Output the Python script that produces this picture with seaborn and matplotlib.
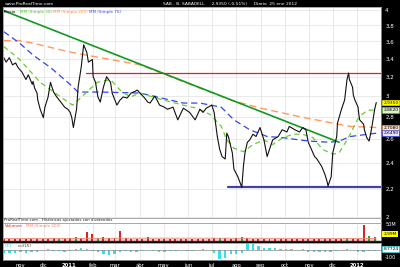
import numpy as np
import pandas as pd
import matplotlib
matplotlib.use("Agg")
import matplotlib.pyplot as plt
import matplotlib.transforms as mtransforms
from matplotlib.ticker import FixedLocator, NullLocator, FixedFormatter
import seaborn as sns

# ---------------- data ----------------
price_dates = ["2010-10-11", "2010-10-14", "2010-10-18", "2010-10-22", "2010-10-26", "2010-10-29",
               "2010-11-03", "2010-11-08", "2010-11-11", "2010-11-16", "2010-11-17", "2010-11-19",
               "2010-11-22", "2010-11-23", "2010-11-26", "2010-11-30", "2010-12-02", "2010-12-06",
               "2010-12-09", "2010-12-13", "2010-12-17", "2010-12-22", "2010-12-27", "2010-12-31",
               "2011-01-03", "2011-01-05", "2011-01-07", "2011-01-11", "2011-01-13", "2011-01-17",
               "2011-01-20", "2011-01-24", "2011-01-26", "2011-01-31", "2011-02-01", "2011-02-04",
               "2011-02-07", "2011-02-10", "2011-02-14", "2011-02-18", "2011-02-23", "2011-02-25",
               "2011-03-03", "2011-03-07", "2011-03-11", "2011-03-16", "2011-03-21", "2011-03-24",
               "2011-03-29", "2011-04-01", "2011-04-06", "2011-04-11", "2011-04-14", "2011-04-20",
               "2011-04-26", "2011-05-02", "2011-05-06", "2011-05-13", "2011-05-19", "2011-05-26",
               "2011-06-03", "2011-06-10", "2011-06-16", "2011-06-20", "2011-06-24", "2011-07-01",
               "2011-07-04", "2011-07-08", "2011-07-11", "2011-07-14", "2011-07-18", "2011-07-20",
               "2011-07-22", "2011-07-27", "2011-07-29", "2011-08-03", "2011-08-08", "2011-08-10",
               "2011-08-12", "2011-08-15", "2011-08-18", "2011-08-22", "2011-08-26", "2011-08-31",
               "2011-09-05", "2011-09-09", "2011-09-13", "2011-09-16", "2011-09-23", "2011-09-28",
               "2011-10-04", "2011-10-07", "2011-10-14", "2011-10-20", "2011-10-24", "2011-10-28",
               "2011-10-31", "2011-11-04", "2011-11-08", "2011-11-11", "2011-11-17", "2011-11-21",
               "2011-11-24", "2011-11-25", "2011-11-29", "2011-12-01", "2011-12-06", "2011-12-07",
               "2011-12-12", "2011-12-16", "2011-12-19", "2011-12-21", "2011-12-22", "2011-12-26",
               "2011-12-27", "2011-12-29", "2012-01-02", "2012-01-03", "2012-01-04", "2012-01-09",
               "2012-01-10", "2012-01-13", "2012-01-16", "2012-01-18", "2012-01-20", "2012-01-23",
               "2012-01-25"]
price_values = [3.41, 3.36, 3.41, 3.33, 3.35, 3.30,
                3.25, 3.17, 3.22, 3.12, 3.15, 3.08,
                3.03, 2.96, 2.87, 2.79, 2.89, 2.99,
                3.14, 3.04, 2.99, 2.94, 2.89, 2.87,
                2.84, 2.79, 2.70, 2.87, 3.09, 3.31,
                3.56, 3.47, 3.36, 3.39, 3.20, 3.14,
                2.99, 2.94, 3.09, 3.20, 3.14, 3.03,
                2.91, 2.96, 2.99, 2.98, 3.03, 3.04,
                3.06, 3.03, 2.99, 2.94, 2.93, 3.00,
                2.91, 2.89, 2.87, 2.89, 2.77, 2.88,
                2.84, 2.77, 2.87, 2.84, 2.88, 2.91,
                2.84, 2.62, 2.51, 2.45, 2.43, 2.65,
                2.62, 2.48, 2.35, 2.29, 2.21, 2.37,
                2.48, 2.57, 2.59, 2.64, 2.62, 2.70,
                2.59, 2.45, 2.53, 2.59, 2.62, 2.68,
                2.66, 2.71, 2.68, 2.66, 2.70, 2.68,
                2.57, 2.51, 2.45, 2.43, 2.37, 2.31,
                2.25, 2.22, 2.29, 2.48, 2.62, 2.74,
                2.87, 2.96, 3.17, 3.24, 3.17, 3.09,
                3.01, 2.96, 2.89, 2.82, 2.77, 2.73,
                2.68, 2.61, 2.58, 2.65, 2.73, 2.87,
                2.935]

ma20_dates = ["2010-10-11", "2010-10-31", "2010-11-26", "2010-12-22", "2011-01-06", "2011-01-20",
              "2011-02-06", "2011-02-23", "2011-03-07", "2011-03-20", "2011-04-01", "2011-04-26",
              "2011-05-26", "2011-06-12", "2011-06-29", "2011-07-13", "2011-07-20", "2011-07-29",
              "2011-08-10", "2011-08-22", "2011-09-05", "2011-09-16", "2011-09-29", "2011-10-12",
              "2011-10-24", "2011-11-06", "2011-11-18", "2011-12-01", "2011-12-09", "2011-12-19",
              "2011-12-23", "2012-01-01", "2012-01-07", "2012-01-14", "2012-01-25"]
ma20_values = [3.54, 3.39, 3.14, 2.99, 2.91, 3.01,
               3.14, 3.17, 3.06, 2.99, 3.03, 2.97,
               2.91, 2.88, 2.82, 2.71, 2.59, 2.52,
               2.49, 2.55, 2.59, 2.55, 2.61, 2.64,
               2.64, 2.61, 2.51, 2.47, 2.48, 2.59,
               2.64, 2.77, 2.82, 2.86, 2.862]

ma70_dates = ["2010-10-11", "2010-10-31", "2010-11-17", "2010-12-09", "2010-12-31", "2011-01-13",
              "2011-02-10", "2011-04-01", "2011-05-26", "2011-06-16", "2011-07-13", "2011-07-29",
              "2011-08-18", "2011-09-09", "2011-09-29", "2011-10-20", "2011-11-02", "2011-11-27",
              "2011-12-09", "2011-12-23", "2012-01-25"]
ma70_values = [3.72, 3.58, 3.44, 3.30, 3.14, 3.04,
               3.04, 3.03, 2.93, 2.93, 2.89, 2.77,
               2.68, 2.62, 2.61, 2.59, 2.58, 2.57,
               2.58, 2.62, 2.649]

ma200_dates = ["2010-10-11", "2010-10-31", "2010-11-17", "2010-12-31", "2011-02-10", "2011-04-01",
               "2011-05-10", "2011-06-16", "2011-07-25", "2011-09-01", "2011-10-20", "2011-12-01",
               "2011-12-23", "2012-01-25"]
ma200_values = [3.61, 3.61, 3.58, 3.48, 3.41, 3.33,
                3.20, 3.08, 2.96, 2.88, 2.80, 2.74,
                2.71, 2.70]

trend_dates = ["2010-10-11", "2011-12-09"]
trend_values = [3.99, 2.57]
resistance_start, resistance_level = "2011-01-23", 3.24
support_start, support_level = "2011-07-22", 2.21

week_start = "2010-10-11"
volume_m = [6, 5, 6, 5, 7, 6, 5, 7, 6, 8, 5, 5,
            9, 12, 10, 28, 22, 10, 13, 8, 9, 30, 9, 7,
            6, 6, 11, 6, 5, 6, 5, 6, 5, 7, 5, 6,
            7, 6, 8, 9, 8, 7, 9, 11, 8, 7, 6, 7,
            6, 6, 5, 6, 5, 6, 5, 6, 5, 6, 5, 6,
            5, 6, 8, 5, 6, 48, 16, 12]
volume_up = "rrrrrrrrrrgrrgrrrgrrrrrrrrrrrrrrrrrrrrrgrrrgrrrrrrrrrrrrrrrrrrgrrrgg"
volume_ma200_dates = ["2010-10-11", "2011-01-15", "2011-04-15", "2011-08-15", "2011-11-15", "2012-01-25"]
volume_ma200_values = [7.5, 7.8, 8.6, 8.2, 7.8, 7.6]

osc_values = [-40, -45, -35, -30, -40, -30, -20, 10, 15, -10, -15, -20,
              -10, 20, 30, 15, -10, -30, -60, -70, -50, -20, -15, -25,
              -20, -10, 10, -15, -30, -20, -10, -15, 10, -10, -15, 10,
              15, 10, -40, -130, -110, -60, -50, -40, 100, 90, 60, 40,
              30, 35, 20, 15, 20, 10, 15, -20, -25, -30, -25, -20,
              -10, 10, 15, 5, -20, -25, -15, -5]

month_starts = ["2010-11-01", "2010-12-01", "2011-01-01", "2011-02-01", "2011-03-01", "2011-04-01",
                "2011-05-01", "2011-06-01", "2011-07-01", "2011-08-01", "2011-09-01", "2011-10-01",
                "2011-11-01", "2011-12-01", "2012-01-01"]
month_labels = ["nov", "dic", "2011", "feb", "mar", "abr", "may", "jun", "jul", "ago", "sep", "oct",
                "nov", "dic", "2012"]
price_ticks = [2.0, 2.2, 2.4, 2.6, 2.8, 3.0, 3.2, 3.4, 3.6, 3.8, 4.0]
price_tick_labels = ["2", "2,2", "2,4", "2,6", "2,8", "3", "3,2", "3,4", "3,6", "3,8", "4"]

# ---------------- figure ----------------
sns.set_theme(style="white")
plt.rcParams['font.family'] = ['DejaVu Sans']

W, H = 400, 267
fig = plt.figure(figsize=(W / 100, H / 100), dpi=100, facecolor='black')


def rect(x0, y0, x1, y1):
    return [x0 / W, 1 - y1 / H, (x1 - x0) / W, (y1 - y0) / H]


xmin, xmax = pd.Timestamp("2010-10-10"), pd.Timestamp("2012-01-31")
months = pd.to_datetime(month_starts)

ax = fig.add_axes(rect(3, 7, 381, 218))
axc = fig.add_axes(rect(3, 218, 381, 223))
axv = fig.add_axes(rect(3, 223, 381, 241))
axo = fig.add_axes(rect(3, 243, 381, 260))

for a in (ax, axc, axv, axo):
    a.set_facecolor('white')
    a.set_xlim(xmin, xmax)
    for s in a.spines.values():
        s.set_color('#9a9a9a')
        s.set_linewidth(0.6)

# main price panel
ax.set_yscale('log')
ax.set_ylim(1.995, 4.04)
ax.yaxis.set_major_locator(FixedLocator(price_ticks))
ax.yaxis.set_major_formatter(FixedFormatter(price_tick_labels))
ax.yaxis.set_minor_locator(NullLocator())
ax.yaxis.tick_right()
ax.tick_params(axis='y', colors='white', labelsize=4, length=0, pad=3)
ax.set_xticks(months)
ax.tick_params(axis='x', length=0, labelbottom=False)
ax.grid(True, color='#e2e2e2', linewidth=0.5)
ax.set_axisbelow(True)

df_p = pd.DataFrame({"date": pd.to_datetime(price_dates), "v": price_values})
df_20 = pd.DataFrame({"date": pd.to_datetime(ma20_dates), "v": ma20_values})
df_70 = pd.DataFrame({"date": pd.to_datetime(ma70_dates), "v": ma70_values})
df_200 = pd.DataFrame({"date": pd.to_datetime(ma200_dates), "v": ma200_values})
df_tr = pd.DataFrame({"date": pd.to_datetime(trend_dates), "v": trend_values})

sns.lineplot(data=df_200, x="date", y="v", ax=ax, color='#ff9a5c', linewidth=1.0,
             linestyle=(0, (5, 3)), legend=False)
sns.lineplot(data=df_70, x="date", y="v", ax=ax, color='#3344ee', linewidth=0.9,
             linestyle=(0, (5, 3)), legend=False)
sns.lineplot(data=df_20, x="date", y="v", ax=ax, color='#66cc33', linewidth=0.9,
             linestyle=(0, (4, 3)), legend=False)
sns.lineplot(data=df_tr, x="date", y="v", ax=ax, color='#119922', linewidth=1.2, legend=False)
ax.plot([pd.Timestamp(resistance_start), xmax], [resistance_level] * 2, color='#e02020', lw=0.9)
ax.plot([pd.Timestamp(support_start), xmax], [support_level] * 2, color='#4040b0', lw=1.6)
sns.lineplot(data=df_p, x="date", y="v", ax=ax, color='#111111', linewidth=0.8, legend=False)
ax.set_xlabel("")
ax.set_ylabel("")
ax.set_xlim(xmin, xmax)

# legend text line
tr = ax.transAxes
lx = 0.002
for txt, col in [("Precio", '#000000'), ("MM (Simple 20)", '#44bb22'),
                 ("MM (Simple 200)", '#ff8844'), ("MM (Simple 70)", '#3344ee')]:
    t = ax.text(lx, 0.985, txt, transform=tr, fontsize=3.0, color=col, va='top', ha='left')
    fig.canvas.draw() if False else None
    lx += (len(txt) + 1.3) * 0.0058

# value boxes on the right
blend = mtransforms.blended_transform_factory(ax.transAxes, ax.transData)
for val, txt, fc, ec in [(2.70, "2,7080", '#ffd9bf', '#ff9a5c'),
                         (2.649, "2,6490", '#e6e6ff', '#3344ee'),
                         (2.862, "2,8620", '#d9f5c8', '#66cc33'),
                         (2.935, "2,9350", '#ffff00', '#ffff00')]:
    ax.text(1.006, val, txt, transform=blend, fontsize=3.2, color='black', va='center', ha='left',
            bbox=dict(boxstyle='square,pad=0.2', fc=fc, ec=ec, lw=0.4), clip_on=False)

# caption strip
axc.set_xticks([])
axc.set_yticks([])
axc.text(0.003, 0.5, "ProRealTime.com - Históricos ajustados con dividendos", transform=axc.transAxes,
         fontsize=2.8, color='#222222', va='center', ha='left')

# volume panel
weeks = pd.date_range(week_start, periods=len(volume_m), freq='7D')
vcols = ['#22aa33' if c == 'g' else '#dd2222' for c in volume_up]
df_vma = pd.DataFrame({"date": pd.to_datetime(volume_ma200_dates), "v": volume_ma200_values})
axv.fill_between(df_vma["date"], 0, df_vma["v"], color='#f4b0a8', alpha=0.5, lw=0)
axv.bar(weeks, volume_m, width=2.5, color=vcols, linewidth=0)
sns.lineplot(data=df_vma, x="date", y="v", ax=axv, color='#f08070', linewidth=0.6, legend=False)
axv.set_xlim(xmin, xmax)
axv.set_ylim(0, 54)
axv.set_xlabel("")
axv.set_ylabel("")
axv.set_xticks(months)
axv.tick_params(axis='x', length=0, labelbottom=False)
axv.yaxis.tick_right()
axv.set_yticks([50])
axv.set_yticklabels(["50M"])
axv.tick_params(axis='y', colors='white', labelsize=3.6, length=0, pad=3)
axv.grid(True, axis='x', color='#e2e2e2', linewidth=0.5)
axv.set_axisbelow(True)
axv.text(0.005, 0.93, "Volumen", transform=axv.transAxes, fontsize=3.0, color='#dd2222', va='top')
axv.text(0.06, 0.93, "MM (Simple 200)", transform=axv.transAxes, fontsize=3.0, color='#f08070', va='top')
bv = mtransforms.blended_transform_factory(axv.transAxes, axv.transData)
axv.text(1.006, 22, "2,99M", transform=bv, fontsize=3.2, color='black', va='center', ha='left',
         bbox=dict(boxstyle='square,pad=0.2', fc='#ffff00', ec='none'), clip_on=False)
axv.spines['bottom'].set_color('#222222')
axv.spines['bottom'].set_linewidth(1.0)

# oscillator panel
axo.bar(weeks[:len(osc_values)], osc_values, width=3.0, color='#33e0e8', linewidth=0)
axo.axhline(0, color='#888888', lw=0.5)
axo.set_xlim(xmin, xmax)
axo.set_ylim(-140, 105)
axo.set_xticks(months)
axo.set_xticklabels(month_labels)
for lab in axo.get_xticklabels():
    if lab.get_text() in ("2011", "2012"):
        lab.set_fontweight('bold')
axo.tick_params(axis='x', colors='white', labelsize=3.8, length=0, pad=2.5)
axo.grid(True, axis='x', color='#e2e2e2', linewidth=0.5)
axo.set_axisbelow(True)
axo.yaxis.tick_right()
axo.set_yticks([-100])
axo.set_yticklabels(["-100"])
axo.tick_params(axis='y', colors='white', labelsize=3.6, length=0, pad=3)
axo.text(0.005, 0.93, "CCI", transform=axo.transAxes, fontsize=3.0, color='#22ccdd', va='top')
axo.text(0.04, 0.93, "cci(15)", transform=axo.transAxes, fontsize=3.0, color='#333333', va='top')
bo = mtransforms.blended_transform_factory(axo.transAxes, axo.transData)
axo.text(1.006, 20, "8,7724", transform=bo, fontsize=3.2, color='black', va='center', ha='left',
         bbox=dict(boxstyle='square,pad=0.2', fc='white', ec='#33e0e8', lw=0.5), clip_on=False)

# title bar
fig.text(5 / W, 1 - 4 / H, "www.ProRealTime.com", color='white', fontsize=3.2, va='center', ha='left')
fig.text(163 / W, 1 - 4 / H, "SAB - B. SABADELL     2,9350 (-0,51%)     Diario  25 ene 2012",
         color='white', fontsize=3.2, va='center', ha='left')

fig.savefig("out.png", dpi=100, facecolor='black')
